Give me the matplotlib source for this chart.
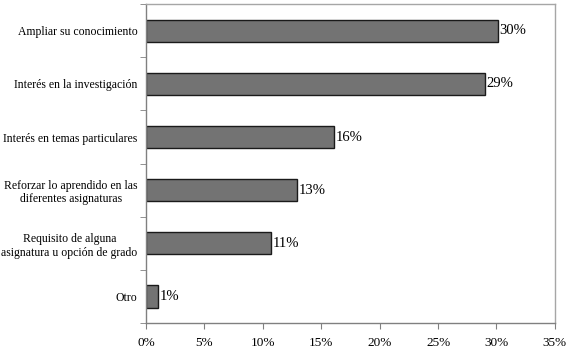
import matplotlib
matplotlib.use("Agg")
import matplotlib.pyplot as plt
from matplotlib.ticker import FuncFormatter, FixedLocator

categories = ["Ampliar su conocimiento", "Interés en la investigación",
              "Interés en temas particulares",
              "Reforzar lo aprendido en las\ndiferentes asignaturas",
              "Requisito de alguna\nasignatura u opción de grado", "Otro"]
values = [30.1, 29.0, 16.1, 12.9, 10.7, 1.0]
value_labels = ["30%", "29%", "16%", "13%", "11%", "1%"]
xticks = [0, 5, 10, 15, 20, 25, 30, 35]

plt.rcParams['font.family'] = ['Liberation Serif', 'DejaVu Serif']

fig = plt.figure(figsize=(5.75, 3.59), dpi=100)
ax = fig.add_axes([0.254, 0.1003, 0.711, 0.888])

n = len(categories)
ypos = list(range(n))[::-1]
ax.barh(ypos, values, height=0.42, color="#737373", edgecolor="#1a1a1a", linewidth=1.0)
for y, v, lab in zip(ypos, values, value_labels):
    ax.text(v + 0.15, y, lab, va="center", ha="left", fontsize=10.5)

ax.set_xlim(0, 35)
ax.set_ylim(-0.5, n - 0.5)
ax.set_xticks(xticks)
ax.xaxis.set_major_formatter(FuncFormatter(lambda x, p: f"{int(x)}%"))
ax.set_yticks(ypos)
ax.set_yticklabels(categories, fontsize=8.5, ha="right", multialignment="center")
ax.tick_params(axis="y", length=0, pad=6)
ax.yaxis.set_minor_locator(FixedLocator([i - 0.5 for i in range(n + 1)]))
ax.tick_params(axis="y", which="minor", length=4, direction="out", color="#808080")
ax.tick_params(axis="x", length=4, direction="out", color="#808080", labelsize=9.5, pad=6)

for s in ["top", "right"]:
    ax.spines[s].set_color("#a6a6a6")
for s in ["left", "bottom"]:
    ax.spines[s].set_color("#808080")
for s in ax.spines.values():
    s.set_linewidth(1.0)

fig.savefig("out.png", dpi=100)
